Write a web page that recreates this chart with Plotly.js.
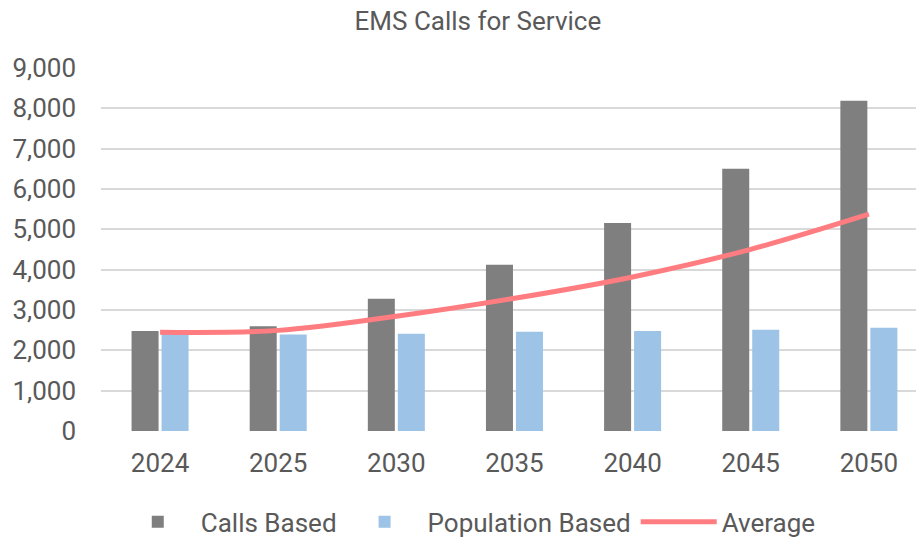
<!DOCTYPE html>
<html>
<head>
<meta charset="utf-8">
<script src="https://cdn.plot.ly/plotly-3.0.1.min.js"></script>
<style>
html, body { margin: 0; padding: 0; background: #fff; }
#chart { width: 919px; height: 538px; }
</style>
</head>
<body>
<div id="chart"></div>
<script>
var years = ["2024", "2025", "2030", "2035", "2040", "2045", "2050"];
var callsBased = [2480, 2600, 3280, 4120, 5160, 6500, 8190];
var populationBased = [2420, 2390, 2410, 2460, 2480, 2510, 2560];
var average = [2450, 2495, 2845, 3290, 3820, 4505, 5375];
var yTickValues = [0, 1000, 2000, 3000, 4000, 5000, 6000, 7000, 8000, 9000];
var yTickLabels = ["0", "1,000", "2,000", "3,000", "4,000", "5,000", "6,000", "7,000", "8,000", "9,000"];

var textColor = "#595959";
var fontFamily = "Roboto, 'Open Sans', sans-serif";

var traces = [
  {
    type: "bar", name: "Calls Based", x: years, y: callsBased,
    marker: { color: "#7F7F7F" }, hoverinfo: "x+y+name"
  },
  {
    type: "bar", name: "Population Based", x: years, y: populationBased,
    marker: { color: "#9DC3E6" }, hoverinfo: "x+y+name"
  },
  {
    type: "scatter", mode: "lines", name: "Average", x: years, y: average,
    line: { color: "#FF7C80", width: 5, shape: "spline", smoothing: 1 }
  }
];

var layout = {
  width: 919, height: 538,
  paper_bgcolor: "#ffffff", plot_bgcolor: "#ffffff",
  font: { family: fontFamily, color: textColor, size: 26 },
  margin: { l: 101, r: 3, t: 68, b: 107, pad: 0, autoexpand: false },
  title: {
    text: "EMS Calls for Service",
    font: { family: fontFamily, size: 26, color: textColor },
    x: 0.52, xanchor: "center", xref: "container",
    y: 0.962, yanchor: "middle", yref: "container"
  },
  barmode: "group", bargap: 0.492, bargroupgap: 0.1,
  xaxis: {
    type: "category", range: [-0.5, 6.399], automargin: false,
    showgrid: false, zeroline: false, showline: false, ticks: "",
    tickfont: { size: 26, color: textColor },
    ticklabelstandoff: 14, fixedrange: true
  },
  yaxis: {
    range: [0, 9000], tickvals: yTickValues, ticktext: yTickLabels, automargin: false,
    showgrid: true, gridcolor: "#D9D9D9", gridwidth: 2,
    zeroline: false, showline: false, ticks: "",
    tickfont: { size: 26, color: textColor },
    ticklabelstandoff: 24, fixedrange: true
  },
  showlegend: true,
  legend: {
    orientation: "h", x: 0.509, xanchor: "center", xref: "container",
    y: 0.03, yanchor: "middle", yref: "container",
    font: { size: 26, color: textColor }, traceorder: "normal",
    itemwidth: 76, bgcolor: "rgba(0,0,0,0)"
  }
};

Plotly.newPlot("chart", traces, layout, { displayModeBar: false, staticPlot: true });
</script>
</body>
</html>
